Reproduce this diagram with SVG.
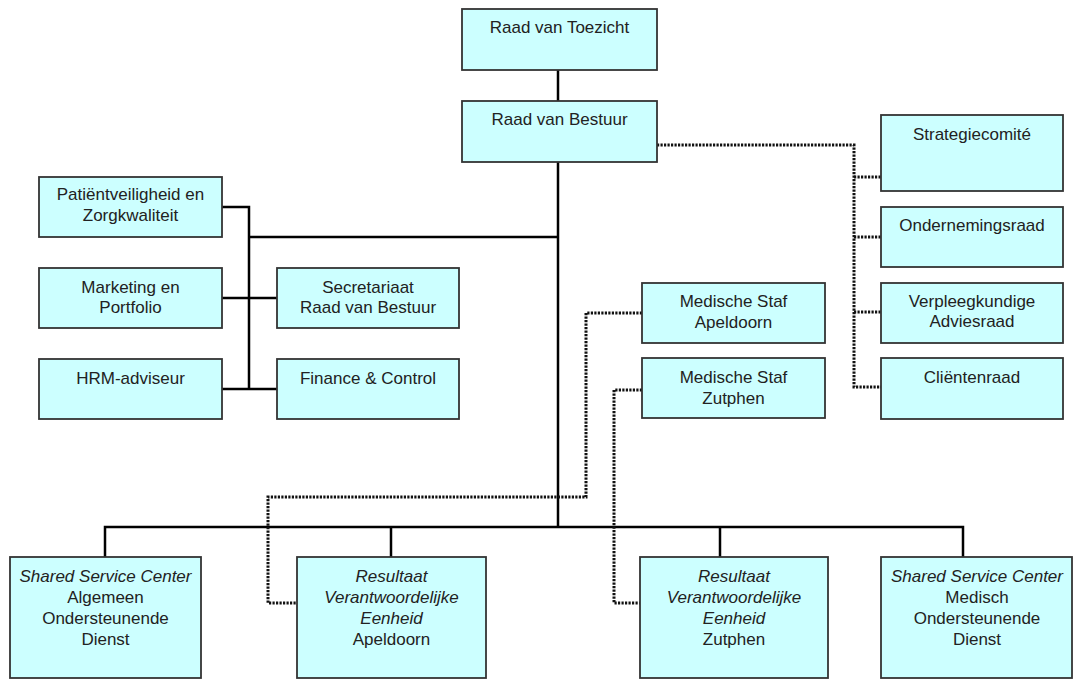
<svg xmlns="http://www.w3.org/2000/svg" width="1084" height="680" viewBox="0 0 1084 680">
<style>
.box{fill:#ccffff;stroke:#333;stroke-width:1.8}
text{font-family:"Liberation Sans",Arial,sans-serif;font-size:17px;fill:#222;text-anchor:middle}
.it{font-style:italic}
.solid{fill:none;stroke:#000;stroke-width:2.5}
.dot{fill:none;stroke:#111;stroke-width:3;stroke-dasharray:2.2 1.3}
</style>
<rect width="1084" height="680" fill="#fff"/>
<g id="connectors">
<path class="solid" d="M558 70V101"/>
<path class="solid" d="M558 162V527"/>
<path class="solid" d="M249 237H558"/>
<path class="solid" d="M222 207H249V389"/>
<path class="solid" d="M222 298H277"/>
<path class="solid" d="M222 389H277"/>
<path class="solid" d="M105 557V527H963V557"/>
<path class="solid" d="M391 527V557"/>
<path class="solid" d="M720 527V557"/>
<path class="dot" d="M657 145H854V387H881"/>
<path class="dot" d="M854 177H881"/>
<path class="dot" d="M854 237H881"/>
<path class="dot" d="M854 312H881"/>
<path class="dot" d="M642 313H586V497H268V603H297"/>
<path class="dot" d="M642 390H614V603H640"/>
</g>
<g id="raad-van-toezicht"><rect class="box" x="462" y="9" width="195" height="61"/><text x="559.5" y="33">Raad van Toezicht</text></g>
<g id="raad-van-bestuur"><rect class="box" x="462" y="101" width="195" height="61"/><text x="559.5" y="125">Raad van Bestuur</text></g>
<g id="patientveiligheid"><rect class="box" x="39" y="177" width="183" height="60"/><text x="130.5" y="200">Patiëntveiligheid en</text><text x="130.5" y="221">Zorgkwaliteit</text></g>
<g id="marketing"><rect class="box" x="39" y="268" width="183" height="60"/><text x="130.5" y="293">Marketing en</text><text x="130.5" y="313">Portfolio</text></g>
<g id="hrm"><rect class="box" x="39" y="359" width="183" height="60"/><text x="130.5" y="384">HRM-adviseur</text></g>
<g id="secretariaat"><rect class="box" x="277" y="268" width="182" height="60"/><text x="368" y="293">Secretariaat</text><text x="368" y="313">Raad van Bestuur</text></g>
<g id="finance"><rect class="box" x="277" y="359" width="182" height="60"/><text x="368" y="384">Finance &amp; Control</text></g>
<g id="medische-staf-apeldoorn"><rect class="box" x="642" y="283" width="183" height="60"/><text x="733.5" y="307">Medische Staf</text><text x="733.5" y="328">Apeldoorn</text></g>
<g id="medische-staf-zutphen"><rect class="box" x="642" y="358" width="183" height="60"/><text x="733.5" y="383">Medische Staf</text><text x="733.5" y="404">Zutphen</text></g>
<g id="strategiecomite"><rect class="box" x="881" y="115" width="182" height="76"/><text x="972" y="140">Strategiecomité</text></g>
<g id="ondernemingsraad"><rect class="box" x="881" y="207" width="182" height="60"/><text x="972" y="231">Ondernemingsraad</text></g>
<g id="verpleegkundige-adviesraad"><rect class="box" x="881" y="283" width="182" height="60"/><text x="972" y="307">Verpleegkundige</text><text x="972" y="327">Adviesraad</text></g>
<g id="clientenraad"><rect class="box" x="881" y="358" width="182" height="61"/><text x="972" y="383">Cliëntenraad</text></g>
<g id="ssc-algemeen"><rect class="box" x="10" y="557" width="191" height="121"/><text class="it" x="105.5" y="582">Shared Service Center</text><text x="105.5" y="603">Algemeen</text><text x="105.5" y="624">Ondersteunende</text><text x="105.5" y="645">Dienst</text></g>
<g id="rve-apeldoorn"><rect class="box" x="297" y="557" width="189" height="121"/><text class="it" x="391.5" y="582">Resultaat</text><text class="it" x="391.5" y="603">Verantwoordelijke</text><text class="it" x="391.5" y="624">Eenheid</text><text x="391.5" y="645">Apeldoorn</text></g>
<g id="rve-zutphen"><rect class="box" x="640" y="557" width="188" height="121"/><text class="it" x="734" y="582">Resultaat</text><text class="it" x="734" y="603">Verantwoordelijke</text><text class="it" x="734" y="624">Eenheid</text><text x="734" y="645">Zutphen</text></g>
<g id="ssc-medisch"><rect class="box" x="881" y="557" width="191" height="121"/><text class="it" x="977" y="582">Shared Service Center</text><text x="977" y="603">Medisch</text><text x="977" y="624">Ondersteunende</text><text x="977" y="645">Dienst</text></g>
</svg>
